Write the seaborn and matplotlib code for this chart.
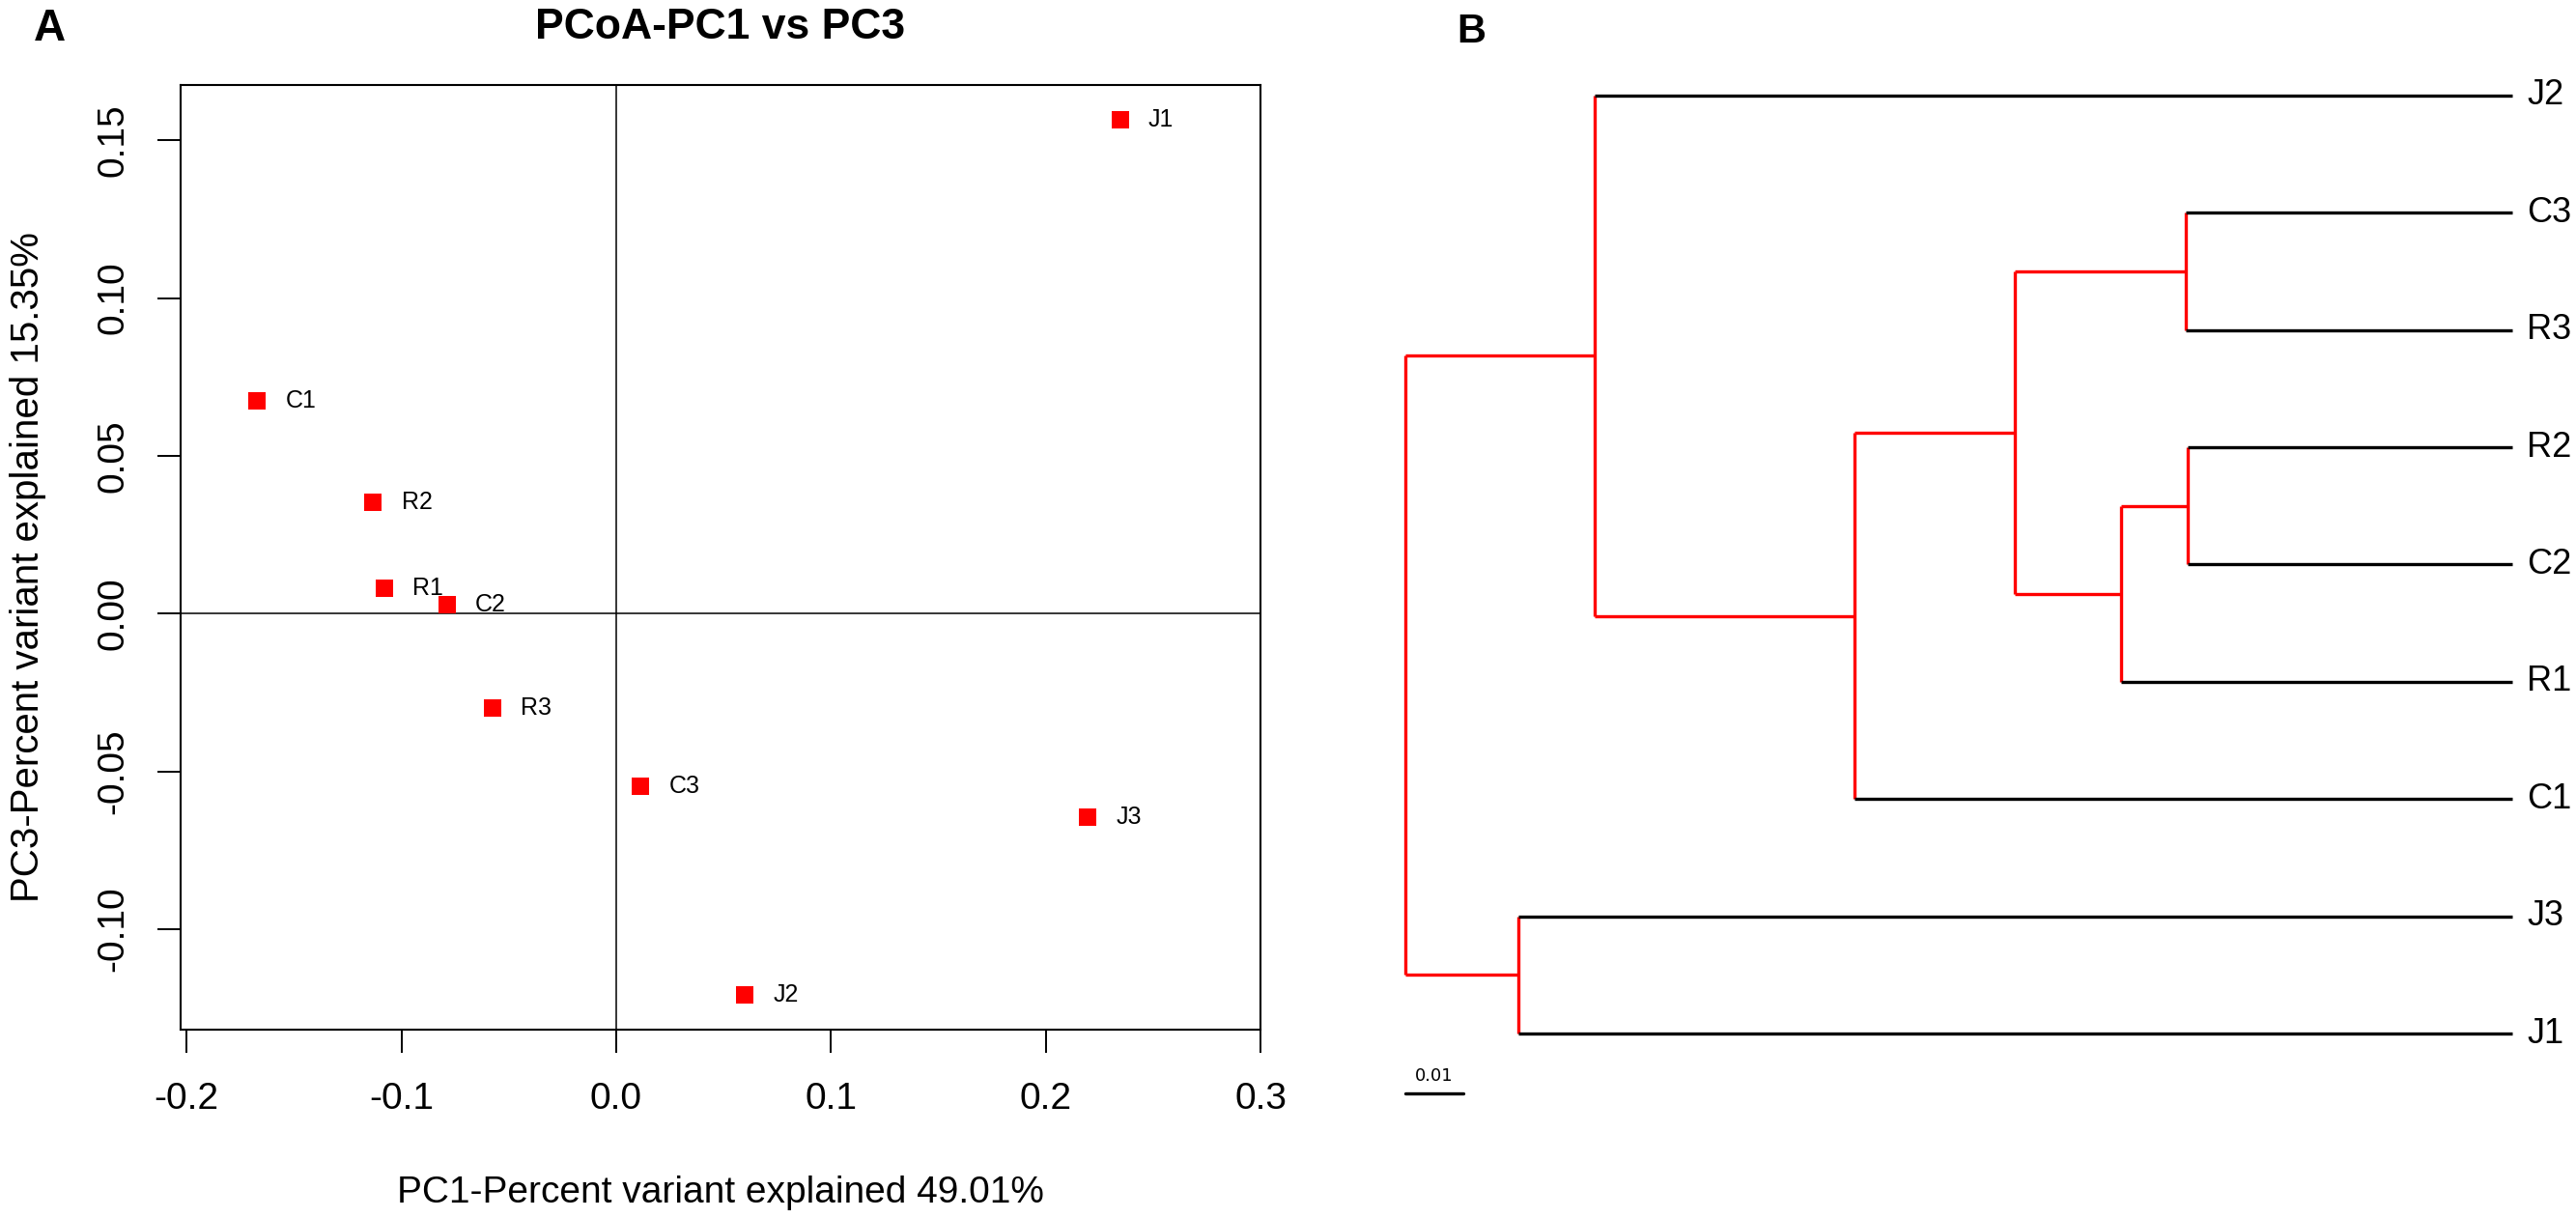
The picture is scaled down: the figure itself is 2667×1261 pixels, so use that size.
import numpy as np
import pandas as pd
import matplotlib
matplotlib.use("Agg")
import matplotlib.pyplot as plt
import seaborn as sns

# === data: PCoA coordinates (PC1 vs PC3) ===
samples = ["C1", "R2", "R1", "C2", "R3", "C3", "J3", "J2", "J1"]
pc1 = [-0.1672, -0.1131, -0.1078, -0.0787, -0.0576, 0.0114, 0.2195, 0.0599, 0.2347]
pc3 = [0.0674, 0.0352, 0.0081, 0.0028, -0.0298, -0.0548, -0.0646, -0.1208, 0.1564]

x_ticks = [-0.2, -0.1, 0.0, 0.1, 0.2, 0.3]
y_ticks = [0.15, 0.10, 0.05, 0.00, -0.05, -0.10]

# === data: clustering tree (linkage style, leaves numbered by display order) ===
leaf_order = ["J2", "C3", "R3", "R2", "C2", "R1", "C1", "J3", "J1"]
merge_a = [1, 3, 10, 9, 12, 0, 7, 14]
merge_b = [2, 4, 5, 11, 6, 13, 8, 15]
merge_height = [0.0563, 0.0560, 0.0674, 0.0857, 0.1134, 0.1582, 0.1714, 0.1909]
scale_len = 0.01

sns.set_style("ticks")
plt.rcParams['font.family'] = ['Liberation Sans', 'DejaVu Sans']
plt.rcParams['axes.unicode_minus'] = False
for key in ["text.color", "axes.labelcolor", "xtick.color", "ytick.color", "axes.edgecolor"]:
    plt.rcParams[key] = "black"

W, H = 2667, 1261
fig = plt.figure(figsize=(W / 100, H / 100), dpi=100)

# ============================
#  A: PCoA scatter
# ============================
axA = fig.add_axes([187 / W, 1 - 1066 / H, (1305 - 187) / W, (1066 - 88) / H])
df = pd.DataFrame({"sample": samples, "PC1": pc1, "PC3": pc3})
axA.axhline(0, color="black", lw=1.1, zorder=1)
axA.axvline(0, color="black", lw=1.1, zorder=1)
sns.scatterplot(data=df, x="PC1", y="PC3", marker="s", s=150, color="#ff0000",
                linewidth=0, ax=axA, zorder=3)
for _, r in df.iterrows():
    axA.annotate(r["sample"], (r["PC1"], r["PC3"]), xytext=(21, 0), textcoords="offset points",
                 ha="left", va="center", fontsize=18)

axA.set_xlim(-0.2028, 0.3)
axA.set_ylim(-0.1318, 0.1675)
axA.set_xticks(x_ticks)
axA.set_xticklabels([f"{v:.1f}" for v in x_ticks])
axA.set_yticks(y_ticks)
axA.set_yticklabels([f"{v:.2f}" for v in y_ticks], rotation=90, va="center")
axA.tick_params(axis="both", length=17, width=1.4, labelsize=28, color="black")
axA.tick_params(axis="x", pad=22)
axA.tick_params(axis="y", pad=20)
for sp in axA.spines.values():
    sp.set_linewidth(1.5)
axA.set_xlabel("PC1-Percent variant explained 49.01%", fontsize=28)
axA.set_ylabel("PC3-Percent variant explained 15.35%", fontsize=29)
axA.xaxis.set_label_coords(0.5, -0.154)
axA.yaxis.set_label_coords(-0.124, 0.49)
axA.text(0.5, 1.061, "PCoA-PC1 vs PC3", transform=axA.transAxes, ha="center", va="center",
         fontsize=32, fontweight="bold")
fig.text(51 / W, 1 - 30 / H, "A", ha="center", va="center", fontsize=33, fontweight="bold")

# ============================
#  B: dendrogram
# ============================
axB = fig.add_axes([1455 / W, 1 - 1070 / H, (2600.7 - 1455) / W, (1070 - 98.9) / H])
n = len(leaf_order)
ypos = {i: float(i) for i in range(n)}
hpos = {i: 0.0 for i in range(n)}
for k, (a, b, h) in enumerate(zip(merge_a, merge_b, merge_height)):
    node = n + k
    ypos[node] = (ypos[a] + ypos[b]) / 2
    hpos[node] = h
    axB.plot([h, h], [ypos[a], ypos[b]], color="#ff0000", lw=2.4, clip_on=False,
             solid_capstyle="butt")
    for c in (a, b):
        col = "black" if c < n else "#ff0000"
        axB.plot([h, hpos[c]], [ypos[c], ypos[c]], color=col, lw=2.4, clip_on=False,
                 solid_capstyle="butt")

for i, name in enumerate(leaf_order):
    axB.annotate(name, (0, i), xytext=(11, 0), textcoords="offset points",
                 ha="left", va="center", fontsize=26)

root_h = merge_height[-1]
axB.plot([root_h, root_h - scale_len], [8.51, 8.51], color="black", lw=2.4, clip_on=False)
axB.text(root_h - scale_len / 2, 8.36, f"{scale_len}", ha="center", va="center", fontsize=13,
         family=["DejaVu Sans"])

axB.set_xlim(root_h, 0)
axB.set_ylim(n - 1, 0)
axB.axis("off")
fig.text(1523 / W, 1 - 33 / H, "B", ha="center", va="center", fontsize=30, fontweight="bold")

plt.savefig("out.png", dpi=100)
